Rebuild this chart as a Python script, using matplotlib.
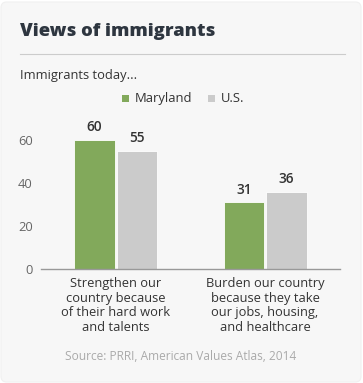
import numpy as np
import matplotlib.pyplot as plt
from matplotlib.patches import FancyBboxPatch, Rectangle
from matplotlib.lines import Line2D

plt.rcParams['font.family'] = ['Open Sans', 'DejaVu Sans']

categories = ['Strengthen our\ncountry because\nof their hard work\nand talents',
              'Burden our country\nbecause they take\nour jobs, housing,\nand healthcare']
maryland = [60, 31]
us = [55, 36]
series_names = ['Maryland', 'U.S.']
colors = ['#82a95b', '#cbcbcb']
yticks = [0, 20, 40, 60]

W, H = 363, 383
fig = plt.figure(figsize=(W / 100, H / 100), dpi=100)
fig.patch.set_facecolor('white')

def px(x, y):
    return x / W, 1 - y / H

# card background
bg = FancyBboxPatch((1 / W, 1 / H), (W - 3) / W, (H - 3) / H,
                    boxstyle='round,pad=0,rounding_size=0.015',
                    transform=fig.transFigure, facecolor='#f7f7f7',
                    edgecolor='#f0f0f0', linewidth=0.8, zorder=-5)
fig.patches.append(bg)

# title and rule
fig.text(*px(20, 31), 'Views of immigrants', fontsize=13.2, fontweight='heavy',
         color='#2e3640', va='center', ha='left')
fig.lines.append(Line2D([20 / W, 345 / W], [1 - 54 / H] * 2, transform=fig.transFigure,
                        color='#cccccc', linewidth=0.8))
fig.text(*px(20, 75), 'Immigrants today...', fontsize=9.3, color='#333333',
         va='center', ha='left')

# legend
for name, col, lx in zip(series_names, colors, [122, 208]):
    fig.patches.append(Rectangle(px(lx, 102), 6.5 / W, 6.5 / H, transform=fig.transFigure,
                                 facecolor=col, edgecolor='none'))
    fig.text(*px(lx + 13, 98.5), name, fontsize=9.4, color='#333333',
             va='center', ha='left')

# axes: y=0 at px 269, x from 41 to 340
y0_px = 269
unit = 129 / 60
top_val = 70
ax_top = y0_px - top_val * unit
ax = fig.add_axes([41 / W, 1 - y0_px / H, 299 / W, (y0_px - ax_top) / H])
ax.set_facecolor('none')
ax.set_xlim(-0.5, 1.5)
ax.set_ylim(0, top_val)

x = np.arange(len(categories))
bw = 0.272
b1 = ax.bar(x - bw / 2 - 0.006, maryland, bw, color=colors[0], edgecolor='white', linewidth=0.6)
b2 = ax.bar(x + bw / 2 + 0.006, us, bw, color=colors[1], edgecolor='white', linewidth=0.6)

for bars, vals in [(b1, maryland), (b2, us)]:
    for b, v in zip(bars, vals):
        ax.text(b.get_x() + b.get_width() / 2, v + 2.6, str(v), ha='center', va='bottom',
                fontsize=9.8, fontweight='semibold', color='#333333')

for s in ['top', 'right', 'left']:
    ax.spines[s].set_visible(False)
ax.spines['bottom'].set_color('#999999')
ax.spines['bottom'].set_linewidth(1)

ax.set_yticks(yticks)
ax.tick_params(axis='y', length=0, labelsize=9.3, labelcolor='#666666', pad=6)
ax.set_xticks([])

# category labels
for i, cat in enumerate(categories):
    cx = [116, 265][i]
    fig.text(*px(cx, 277), cat, fontsize=9.3, color='#333333', ha='center', va='top',
             linespacing=1.17)

fig.text(*px(181, 357), 'Source: PRRI, American Values Atlas, 2014', fontsize=8.6,
         color='#aaaaaa', ha='center', va='center')

fig.savefig('out.png', dpi=100, facecolor=fig.get_facecolor())
